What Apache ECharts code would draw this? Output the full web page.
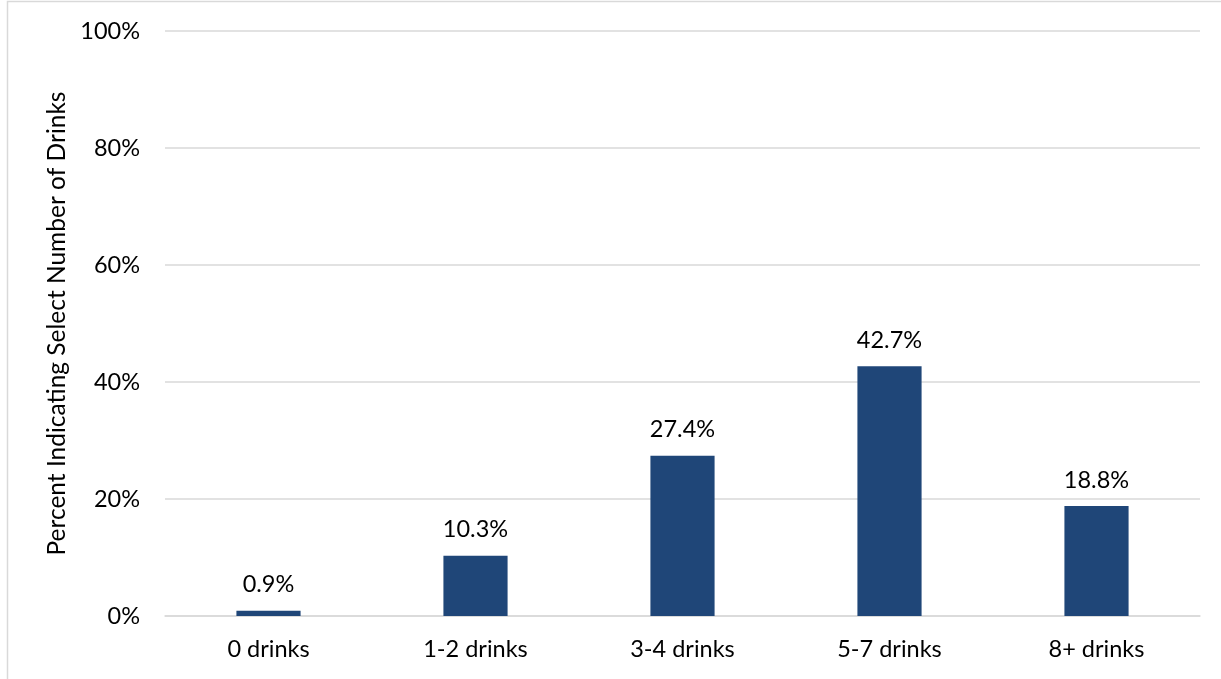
<!DOCTYPE html>
<html>
<head>
<meta charset="utf-8">
<script src="https://cdn.jsdelivr.net/npm/echarts@6/dist/echarts.min.js"></script>
<style>
html,body{margin:0;padding:0;background:#fff;}
#chart{width:1221px;height:679px;}
</style>
</head>
<body>
<div id="chart"></div>
<script>
const categories = ['0 drinks', '1-2 drinks', '3-4 drinks', '5-7 drinks', '8+ drinks'];
const values = [0.9, 10.3, 27.4, 42.7, 18.8];
const yTicks = [0, 20, 40, 60, 80, 100];
const yAxisTitle = 'Percent Indicating Select Number of Drinks';

const FONT = 'Lato, "Open Sans", sans-serif';
const FS = 23.5;
const chart = echarts.init(document.getElementById('chart'));
chart.setOption({
  animation: false,
  backgroundColor: '#fff',
  graphic: [{
    type: 'rect',
    shape: { x: 7.5, y: 1.5, width: 1400, height: 900 },
    style: { fill: 'none', stroke: '#D9D9D9', lineWidth: 1.5 },
    silent: true
  }],
  grid: { left: 165, right: 21, top: 31, bottom: 63 },
  xAxis: {
    type: 'category',
    data: categories,
    axisLine: { show: true, lineStyle: { color: '#D9D9D9', width: 1.5 } },
    axisTick: { show: false },
    axisLabel: { color: '#000', fontFamily: FONT, fontSize: FS, margin: 21 }
  },
  yAxis: {
    type: 'value',
    min: yTicks[0],
    max: yTicks[yTicks.length - 1],
    interval: 20,
    name: yAxisTitle,
    nameLocation: 'middle',
    nameGap: 91,
    nameTextStyle: { color: '#000', fontFamily: FONT, fontSize: 24.5 },
    axisLine: { show: false },
    axisTick: { show: false },
    splitLine: { lineStyle: { color: '#D9D9D9', width: 1.5 } },
    axisLabel: { color: '#000', fontFamily: FONT, fontSize: FS, margin: 25, formatter: v => v + '%' }
  },
  series: [{
    type: 'bar',
    data: values,
    barWidth: '31%',
    itemStyle: { color: '#1F4678' },
    label: {
      show: true,
      position: 'top',
      distance: 14,
      color: '#000',
      fontFamily: FONT,
      fontSize: FS,
      formatter: p => p.value.toFixed(1) + '%'
    }
  }]
});
</script>
</body>
</html>
